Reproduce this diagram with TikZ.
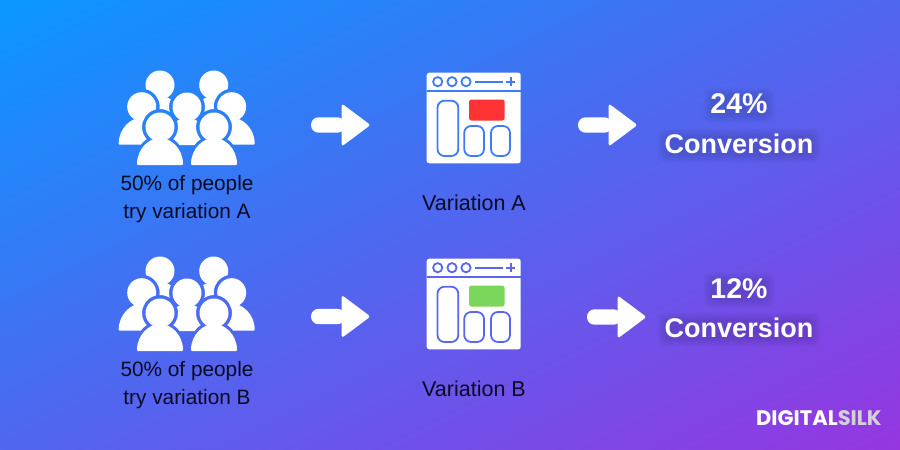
\documentclass[tikz,border=0pt]{standalone}
\usepackage{fontspec}
\setmainfont{Liberation Sans}
\newfontfamily\logofont{Poppins}
\begin{document}
\begin{tikzpicture}[x=1pt,y=-1pt,
  caption/.style={anchor=base,text=captionink,inner sep=0pt,font=\fontsize{20.8}{20.8}\selectfont},
  variant/.style={anchor=base,text=captionink,inner sep=0pt,font=\fontsize{21.5}{21.5}\selectfont},
  result/.style={anchor=base,text=white,inner sep=0pt,font=\fontsize{27}{27}\selectfont\bfseries},
  rate/.style={anchor=base,text=white,inner sep=0pt,font=\fontsize{28.5}{28.5}\selectfont\bfseries},
  softshade/.style={fill=black,opacity=0.018,rounded corners=7pt},
  white shape/.style={fill=white,draw=none}]
\definecolor{captionink}{HTML}{0A0A22}
\definecolor{gradstart}{HTML}{0A97FF}
\definecolor{gradend}{HTML}{9636E0}
\definecolor{redpanel}{HTML}{FF3333}
\definecolor{greenpanel}{HTML}{7BD65C}
\definecolor{logogrey}{HTML}{D2D2D6}
\definecolor{wireA}{HTML}{3F7BF6}
\definecolor{wireB}{HTML}{5B66EE}

% the diagonal background wash
\newcommand{\backdrop}{\fill[transform canvas={rotate=-63.435},left color=gradstart,right color=gradend]
  (0,-1200) rectangle (805,1200);}

% shoulders below a head centred on (#1,#2), grown outward by #3
\newcommand{\bodypath}[3]{(#1-23-#3,#2+38+#3) .. controls (#1-23-#3,#2+21-#3*.6) and (#1-10-#3*.6,#2+11-#3) .. (#1,#2+11-#3)
  .. controls (#1+10+#3*.6,#2+11-#3) and (#1+23+#3,#2+21-#3*.6) .. (#1+23+#3,#2+38+#3) -- cycle}
% keep what follows out of the clear ring around the person at (#1,#2)
\newcommand{\hole}[2]{%
  \pgfseteorule
  \clip (0,0) rectangle (900,450) (#1,#2) circle[radius=18pt];
  \clip (0,0) rectangle (900,450) \bodypath{#1}{#2}{3.5};}
\newcommand{\person}[2]{%
  \fill[white shape,rounded corners=1pt] \bodypath{#1}{#2}{0};
  \fill[white shape] (#1,#2) circle[radius=14.5pt];}

% the group of seven people, offset vertically by #1; rear figures stay out of the front rings
\newcommand{\crowd}[1]{%
  \begin{scope}\hole{141.7}{106.7+#1}\hole{187}{107+#1}\hole{160}{127+#1}\hole{214}{127+#1}\person{160}{85+#1}\end{scope}
  \begin{scope}\hole{231.7}{106.7+#1}\hole{187}{107+#1}\hole{160}{127+#1}\hole{214}{127+#1}\person{213.7}{85+#1}\end{scope}
  \begin{scope}\hole{187}{107+#1}\hole{160}{127+#1}\hole{214}{127+#1}\person{141.7}{106.7+#1}\end{scope}
  \begin{scope}\hole{187}{107+#1}\hole{160}{127+#1}\hole{214}{127+#1}\person{231.7}{106.7+#1}\end{scope}
  \begin{scope}\hole{160}{127+#1}\hole{214}{127+#1}\person{187}{107+#1}\end{scope}
  \begin{scope}\hole{214}{127+#1}\person{160}{127+#1}\end{scope}
  \person{214}{127+#1}}

% browser window: #1 vertical offset, #2 line colour, #3 panel colour
\newcommand{\browser}[3]{%
  \fill[white shape,rounded corners=2.5pt] (426.7,72.7+#1) rectangle (520.7,163.3+#1);
  \begin{scope}[draw=#2,line width=1.8pt]
    \draw (426.7,90.7+#1) -- (520.7,90.7+#1);
    \draw (437.7,81.7+#1) circle[radius=4.6pt];
    \draw (452,81.7+#1) circle[radius=4.6pt];
    \draw (466,81.7+#1) circle[radius=4.6pt];
    \draw (475,81.7+#1) -- (502.7,81.7+#1);
    \draw (506.3,81.7+#1) -- (515.3,81.7+#1);
    \draw (510.8,77.2+#1) -- (510.8,86.2+#1);
    \draw[rounded corners=7pt] (437.5,100.7+#1) rectangle (458.3,156+#1);
    \draw[rounded corners=7pt] (464.2,126+#1) rectangle (484,156+#1);
    \draw[rounded corners=7pt] (491,126+#1) rectangle (510,156+#1);
  \end{scope}
  \fill[#3,rounded corners=2.5pt] (469,99.5+#1) rectangle (504.7,120.5+#1);}

% block arrow with left end at #1, centred on height #2
\newcommand{\blockarrow}[2]{%
  \fill[white shape,rounded corners=7.5pt] (#1,#2-7.7) rectangle (#1+34,#2+7.7);
  \fill[white shape,rounded corners=2.5pt] (#1+30.7,#2-21.5) -- (#1+59.5,#2) -- (#1+30.7,#2+21.5) -- cycle;}

% soft shading under a headline, between x #1..#2 and y #3..#4
\newcommand{\softblock}[4]{%
  \foreach \g in {0,1.5,...,7.5}{\fill[softshade] (#1-\g,#3-\g+2) rectangle (#2+\g,#4+\g+2);}}

\useasboundingbox (0,0) rectangle (900,450);
\begin{scope}
  \clip (0,0) rectangle (900,450);
  \backdrop
\end{scope}

\crowd{0}
\crowd{186}
\browser{0}{wireA}{redpanel}
\browser{186}{wireB}{greenpanel}
\blockarrow{311}{125}
\blockarrow{311}{316.5}
\blockarrow{578}{125}
\blockarrow{587}{317}

\softblock{711}{767}{93}{113}
\softblock{665}{813}{134}{153}
\softblock{711}{767}{278}{298}
\softblock{665}{813}{318}{337}

\node[caption] (peopleAone) at (187,190) {50\% of people};
\node[caption] (peopleAtwo) at (187,218.5) {try variation A};
\node[caption] (peopleBone) at (187,376) {50\% of people};
\node[caption] (peopleBtwo) at (187,404.5) {try variation B};
\node[variant] (varA) at (474,210) {Variation A};
\node[variant] (varB) at (474,396) {Variation B};
\node[rate] (rateA) at (739,113.3) {24\%};
\node[result] (convA) at (739,153.3) {Conversion};
\node[rate] (rateB) at (739,298) {12\%};
\node[result] (convB) at (739,337.5) {Conversion};
\node[anchor=base west,inner sep=0pt,font=\logofont\bfseries\fontsize{21}{21}\selectfont] (logo) at (756,425)
  {\textcolor{white}{DIGITAL}\textcolor{logogrey}{SILK}};
\end{tikzpicture}
\end{document}
